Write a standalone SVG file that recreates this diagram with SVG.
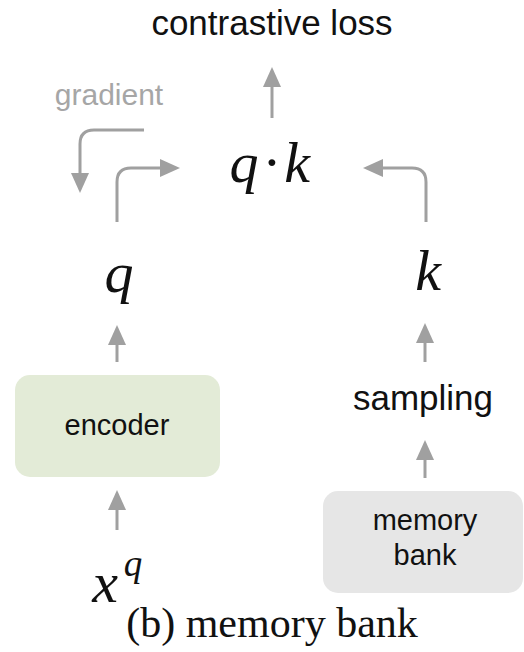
<svg xmlns="http://www.w3.org/2000/svg" width="524" height="652" viewBox="0 0 524 652">
<style>
.sans{font-family:"Liberation Sans",Arial,sans-serif;fill:#111;text-anchor:middle}
.math{font-family:"Liberation Serif","Times New Roman",serif;font-style:italic;fill:#111;text-anchor:middle}
.cap{font-family:"Liberation Serif","Times New Roman",serif;fill:#111;text-anchor:middle}
.conn path{fill:none;stroke:#a0a0a0;stroke-width:3;marker-end:url(#ah)}
</style>
<defs>
<marker id="ah" viewBox="0 0 20 18" refX="10" refY="9" markerWidth="20" markerHeight="18" orient="auto" markerUnits="userSpaceOnUse">
<path d="M0,0 L20,9 L0,18 z" fill="#a0a0a0"/>
</marker>
</defs>
<rect width="524" height="652" fill="#fff"/>
<g id="loss"><text class="sans" x="272" y="35" font-size="35">contrastive loss</text></g>
<g id="gradient-label"><text class="sans" x="109" y="105" font-size="30" style="fill:#a6a6a6">gradient</text></g>
<g id="qk">
<text class="math" x="244" y="182" font-size="58">q</text>
<text class="cap" x="272" y="182" font-size="58">·</text>
<text class="math" x="297" y="182" font-size="58">k</text>
</g>
<g id="q"><text class="math" x="119" y="292" font-size="58">q</text></g>
<g id="k"><text class="math" x="428" y="290" font-size="58">k</text></g>
<g id="encoder">
<rect x="15" y="375" width="205" height="102" rx="15" fill="#e3ebd7"/>
<text class="sans" x="117" y="435" font-size="29">encoder</text>
</g>
<g id="sampling"><text class="sans" x="423" y="410" font-size="35">sampling</text></g>
<g id="memory-bank">
<rect x="323" y="491" width="200" height="102" rx="15" fill="#e6e6e6"/>
<text class="sans" x="425" y="530" font-size="29">memory</text>
<text class="sans" x="425" y="565" font-size="29">bank</text>
</g>
<g id="xq">
<text class="math" x="105" y="602" font-size="58">x</text>
<text class="math" x="133" y="576" font-size="37">q</text>
</g>
<g id="caption"><text class="cap" x="272" y="637" font-size="42">(b) memory bank</text></g>
<g id="connectors" class="conn">
<path d="M272,118 V77"/>
<path d="M144,130 H94 Q80,130 80,144 V183"/>
<path d="M117,222 V182 Q117,168 131,168 H170"/>
<path d="M426,222 V182 Q426,168 412,168 H373"/>
<path d="M117,362 V335"/>
<path d="M425,362 V333"/>
<path d="M425,478 V450"/>
<path d="M117,530 V500"/>
</g>
</svg>
